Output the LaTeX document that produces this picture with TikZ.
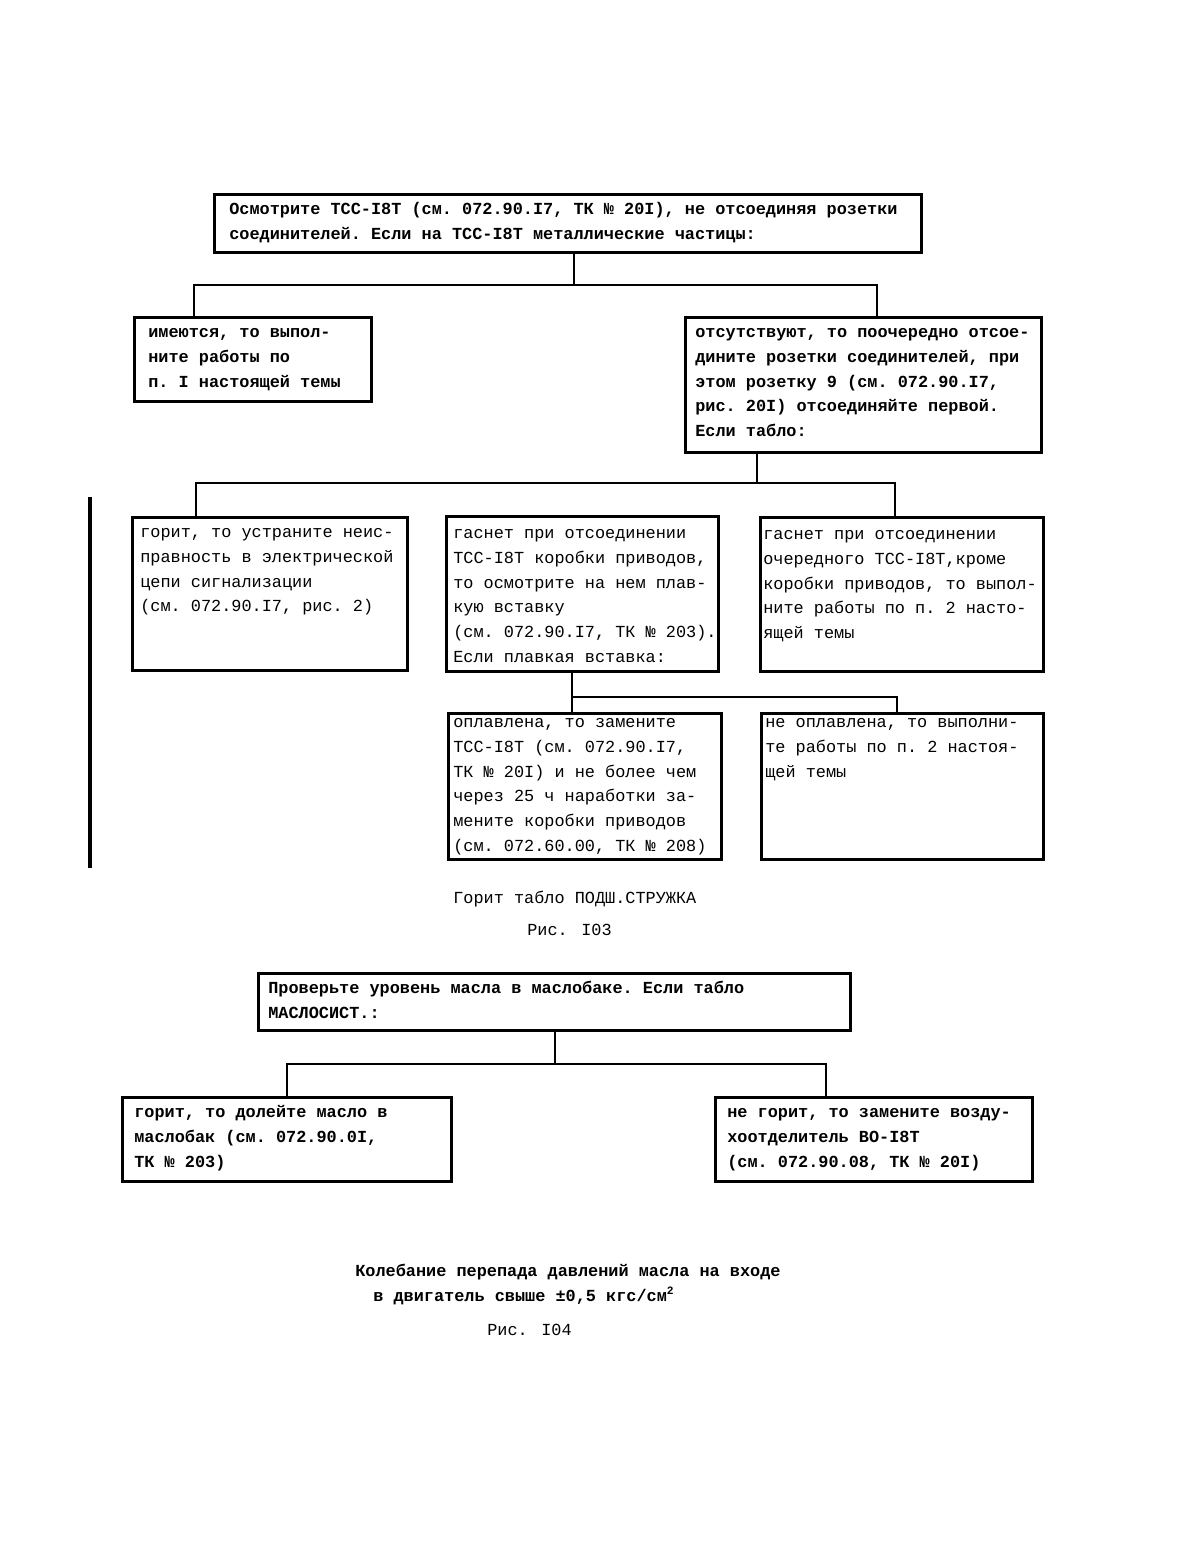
\documentclass[tikz,border=0pt]{standalone}
\usepackage{fontspec}
\newfontfamily\tw[WordSpace={1,0,0}, PunctuationSpace=1]{Liberation Mono}
\newcommand\twsize{\fontsize{12}{17.7}\selectfont}
\usepackage{tikz}
\usetikzlibrary{positioning}
\tikzstyle{frame-box}=[rectangle, draw=black, line width=1.8pt, anchor=north west, align=left, inner ysep=0pt, text height=0.5cm, font=\tw\twsize, execute at begin node={\spaceskip=7.2pt\xspaceskip=7.2pt\relax}]
\tikzstyle{bold-box}=[frame-box, font=\tw\bfseries\twsize]
\tikzstyle{link}=[draw=black, line width=1.4pt]
\tikzstyle{caption}=[anchor=base west, inner sep=0pt, font=\tw\twsize]

\begin{document}
\begin{tikzpicture}[x=0.025cm, y=-0.025cm]
	\useasboundingbox (0,0) rectangle (1203,1542);

	% Рис. 103
	\node[bold-box, inner xsep=0.375cm, text width=16.925cm, text depth=0.95cm] (osm) at (213,193)
		{Осмотрите ТСС-I8Т (см. 072.90.I7, ТК № 20I), не отсоединяя розетки\\соединителей. Если на ТСС-I8Т металлические частицы:};

	\node[bold-box, inner xsep=0.35cm, text width=5.225cm, text depth=1.6cm] (imeyut) at (133,316)
		{имеются, то выпол-\\ните работы по\\п. I настоящей темы};
	\node[bold-box, inner xsep=0.25cm, text width=8.4cm, text depth=2.875cm] (otsut) at (684,316)
		{отсутствуют, то поочередно отсое-\\дините розетки соединителей, при\\этом розетку 9 (см. 072.90.I7,\\рис. 20I) отсоединяйте первой.\\Если табло:};

	\node[frame-box, inner xsep=0.2cm, text width=6.475cm, text depth=3.325cm] (gorit) at (131,516)
		{горит, то устраните неис-\\правность в электрической\\цепи сигнализации\\(см. 072.90.I7, рис. 2)};
	\node[frame-box, inner xsep=0.175cm, text width=6.45cm, text height=0.55cm, text depth=3.325cm] (gasA) at (445,515)
		{гаснет при отсоединении\\ТСС-I8Т коробки приводов,\\то осмотрите на нем плав-\\кую вставку\\(см. 072.90.I7, ТК № 203)\rlap{.}\\Если плавкая вставка:};
	\node[frame-box, inner xsep=0.075cm, text width=6.925cm, text height=0.55cm, text depth=3.3cm] (gasB) at (759,516)
		{гаснет при отсоединении\\очередного ТСС-I8Т,кроме\\коробки приводов, то выпол-\\ните работы по п. 2 насто-\\ящей темы};

	\node[frame-box, inner xsep=0.125cm, text width=6.575cm, text height=0.35cm, text depth=3.3cm] (oplav) at (447,712)
		{оплавлена, то замените\\ТСС-I8Т (см. 072.90.I7,\\ТК № 20I) и не более чем\\через 25 ч наработки за-\\мените коробки приводов\\(см. 072.60.00, ТК № 208)};
	\node[frame-box, inner xsep=0.1cm, text width=6.85cm, text height=0.35cm, text depth=3.3cm] (neoplav) at (760,712)
		{не оплавлена, то выполни-\\те работы по п. 2 настоя-\\щей темы};

	\coordinate (j1) at (574,285);
	\coordinate (j1l) at (194,285);
	\coordinate (j1r) at (877,285);
	\draw[link] (osm.south -| j1) -- (j1);
	\draw[link] (imeyut.north -| j1l) -- (j1l) -- (j1r) -- (otsut.north -| j1r);

	\coordinate (j2) at (757,483);
	\coordinate (j2l) at (196,483);
	\coordinate (j2r) at (895,483);
	\draw[link] (otsut.south -| j2) -- (j2);
	\draw[link] (gorit.north -| j2l) -- (j2l) -- (j2r) -- (gasB.north -| j2r);

	\coordinate (j3) at (572,697);
	\coordinate (j3r) at (897,697);
	\draw[link] (gasA.south -| j3) -- (oplav.north -| j3);
	\draw[link] (j3) -- (j3r) -- (neoplav.north -| j3r);

	\draw[line width=3pt] (90,497) -- (90,868);

	\node[caption] (cap1) at (453,903) {Горит табло ПОДШ.СТРУЖКА};
	\node[caption] (fig1) at (527,935) {Рис. I03};

	% Рис. 104
	\node[bold-box, inner xsep=0.25cm, text width=14.3cm, text depth=0.925cm] (prov) at (257,972)
		{Проверьте уровень масла в маслобаке. Если табло\\МАСЛОСИСТ.:};
	\node[bold-box, inner xsep=0.3cm, text width=7.625cm, text depth=1.6cm] (dolei) at (121,1096)
		{горит, то долейте масло в\\маслобак (см. 072.90.0I,\\ТК № 203)};
	\node[bold-box, inner xsep=0.3cm, text width=7.325cm, text depth=1.6cm] (zamen) at (714,1096)
		{не горит, то замените возду-\\хоотделитель ВО-I8Т\\(см. 072.90.08, ТК № 20I)};

	\coordinate (j4) at (555,1064);
	\coordinate (j4l) at (287,1064);
	\coordinate (j4r) at (826,1064);
	\draw[link] (prov.south -| j4) -- (j4);
	\draw[link] (dolei.north -| j4l) -- (j4l) -- (j4r) -- (zamen.north -| j4r);

	\node[caption, font=\tw\bfseries\twsize] (cap2) at (355,1276) {Колебание перепада давлений масла на входе};
	\node[caption, font=\tw\bfseries\twsize] (cap2b) at (373,1301) {в двигатель свыше ±0,5 кгс/см\textsuperscript{2}};
	\node[caption] (fig2) at (487,1335) {Рис. I04};
\end{tikzpicture}
\end{document}
